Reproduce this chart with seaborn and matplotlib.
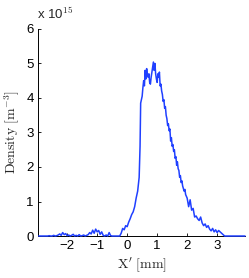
import matplotlib
matplotlib.use("Agg")
import matplotlib.pyplot as plt
import seaborn as sns
import pandas as pd

# Position along X' (mm) and measured density (units of 1e15 m^-3)
x_mm = [
    -2.95, -2.90, -2.85, -2.80, -2.75, -2.70, -2.65, -2.60, -2.55, -2.50,
    -2.45, -2.40, -2.35, -2.30, -2.25, -2.20, -2.15, -2.10, -2.05, -2.00,
    -1.95, -1.90, -1.85, -1.80, -1.75, -1.70, -1.65, -1.60, -1.55, -1.50,
    -1.45, -1.40, -1.35, -1.30, -1.25, -1.20, -1.15, -1.10, -1.05, -1.00,
    -0.95, -0.90, -0.85, -0.80, -0.75, -0.70, -0.65, -0.60, -0.55, -0.50,
    -0.45, -0.40, -0.35, -0.30, -0.25, -0.20, -0.15, -0.10, -0.05, 0.00,
    0.05, 0.10, 0.15, 0.20, 0.25, 0.30, 0.35, 0.40, 0.43,
    0.450, 0.475, 0.500, 0.525, 0.550, 0.575, 0.600, 0.625, 0.650, 0.675,
    0.700, 0.725, 0.750, 0.775, 0.800, 0.825, 0.850, 0.875, 0.900, 0.925,
    0.950, 0.975, 1.000, 1.025, 1.050, 1.075, 1.100, 1.125, 1.150, 1.175,
    1.200, 1.225, 1.250, 1.275, 1.300, 1.325, 1.350, 1.375, 1.400, 1.425,
    1.450, 1.475, 1.500, 1.525, 1.550, 1.575, 1.600, 1.625, 1.650, 1.675,
    1.700, 1.725, 1.750, 1.775, 1.800, 1.825, 1.850, 1.875, 1.900, 1.925,
    1.950, 1.975, 2.000,
    2.05, 2.10, 2.15, 2.20, 2.25, 2.30, 2.35, 2.40, 2.45, 2.50,
    2.55, 2.60, 2.65, 2.70, 2.75, 2.80, 2.85, 2.90, 2.95, 3.00,
    3.05, 3.10, 3.15, 3.20, 3.25, 3.30, 3.40, 3.50, 3.60, 3.70,
    3.80, 3.93,
]
density = [
    0.00, 0.00, 0.00, 0.00, 0.00, 0.00, 0.00, 0.01, 0.00, 0.00,
    0.02, 0.00, 0.01, 0.03, 0.06, 0.02, 0.10, 0.04, 0.07, 0.01,
    0.03, 0.00, 0.02, 0.05, 0.00, 0.02, 0.00, 0.04, 0.00, 0.01,
    0.03, 0.00, 0.02, 0.04, 0.10, 0.06, 0.17, 0.08, 0.20, 0.12,
    0.16, 0.05, 0.12, 0.02, 0.00, 0.03, 0.00, 0.10, 0.01, 0.00,
    0.00, 0.00, 0.00, 0.00, 0.00, 0.08, 0.22, 0.18, 0.30, 0.27,
    0.40, 0.50, 0.62, 0.70, 0.85, 1.10, 1.30, 1.70, 2.60,
    3.85, 3.95, 4.05, 4.30, 4.50, 4.35, 4.80, 4.55, 4.85, 4.65,
    4.60, 4.70, 4.45, 4.40, 4.60, 4.75, 4.90, 5.04, 4.80, 5.00,
    4.70, 4.55, 4.45, 4.70, 4.60, 4.75, 4.35, 4.40, 4.20, 4.10,
    3.90, 3.95, 3.70, 3.75, 3.50, 3.40, 3.20, 3.25, 3.05, 3.10,
    2.75, 2.85, 2.60, 2.65, 2.45, 2.50, 2.25, 2.30, 2.05, 2.15,
    1.95, 1.90, 1.70, 1.75, 1.55, 1.60, 1.45, 1.38, 1.30, 1.35,
    1.20, 1.15, 1.10,
    0.85, 1.05, 0.75, 0.80, 0.55, 0.58, 0.50, 0.45, 0.55, 0.38,
    0.30, 0.35, 0.25, 0.30, 0.20, 0.15, 0.22, 0.12, 0.18, 0.10,
    0.16, 0.12, 0.08, 0.04, 0.00, 0.00, 0.00, 0.00, 0.00, 0.00,
    0.00, 0.00,
]
x_ticks = [-2, -1, 0, 1, 2, 3]
y_ticks = [0, 1, 2, 3, 4, 5, 6]

sns.set_style("white")
plt.rcParams["font.family"] = ["Liberation Sans", "DejaVu Sans"]
plt.rcParams["mathtext.fontset"] = "cm"

df = pd.DataFrame({"x": x_mm, "density": density})

fig = plt.figure(figsize=(2.49, 2.78), dpi=100)
ax = fig.add_axes([0.153, 0.151, 0.831, 0.745])

sns.lineplot(data=df, x="x", y="density", ax=ax, color="#2040ff",
             linewidth=1.1, zorder=3, clip_on=False)

ax.set_xlim(-2.97, 3.93)
ax.set_ylim(0, 6)
ax.set_xticks(x_ticks)
ax.set_yticks(y_ticks)
ax.set_xticklabels(["\u2212" + str(-t) if t < 0 else str(t) for t in x_ticks])
ax.tick_params(axis="both", direction="in", length=2.5, width=0.6,
               labelsize=9.5, colors="black", pad=3)
ax.tick_params(axis="y", left=True)
ax.tick_params(axis="x", bottom=True)

for side in ["top", "right"]:
    ax.spines[side].set_visible(False)
for side in ["left", "bottom"]:
    ax.spines[side].set_color("black")
    ax.spines[side].set_linewidth(0.7)

ax.set_xlabel(r"$\mathrm{X'\ [mm]}$", fontsize=10, labelpad=2)
ax.set_ylabel(r"$\mathrm{Density\ [m^{-3}]}$", fontsize=10, labelpad=3)

fig.text(0.150, 0.922, r"x 10$^{15}$", fontsize=9.5, ha="left", va="bottom")

fig.savefig("out.png", dpi=100)
